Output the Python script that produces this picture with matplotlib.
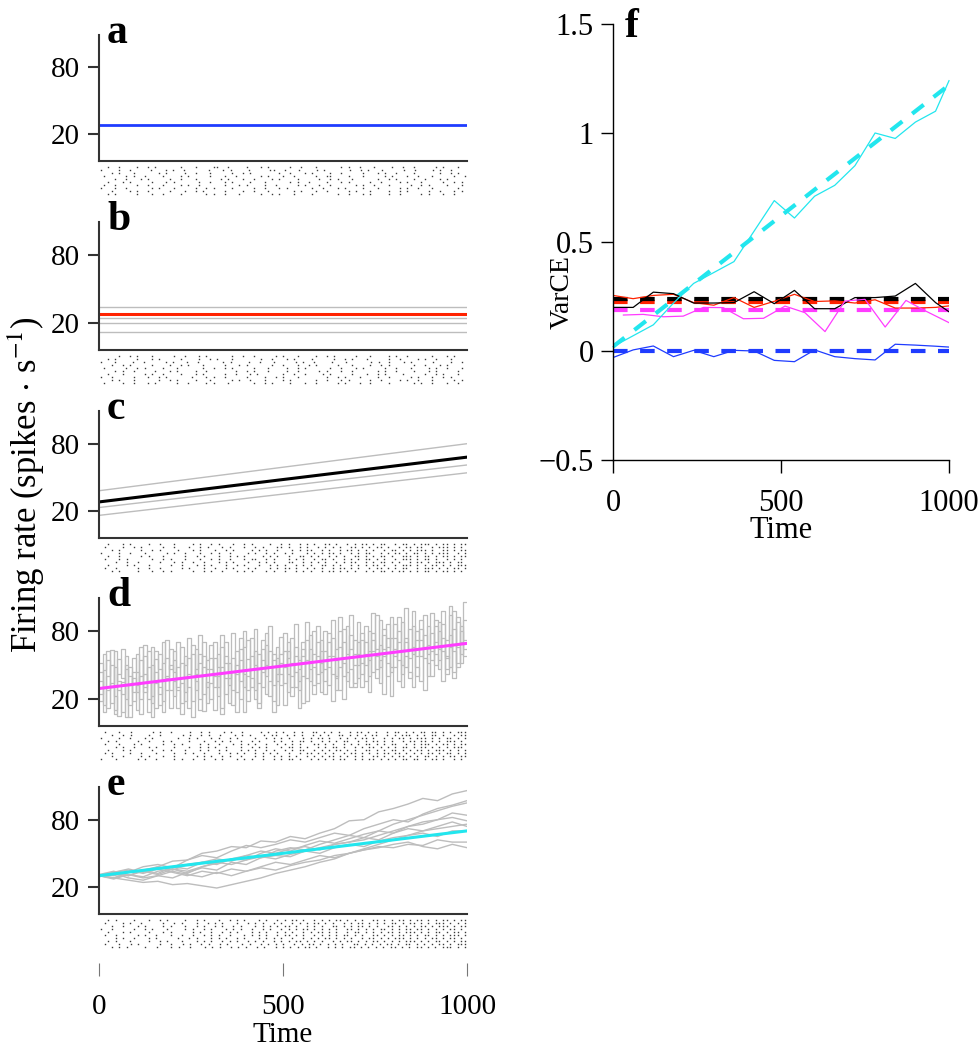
import numpy as np
import matplotlib
matplotlib.use("Agg")
import matplotlib.pyplot as plt

plt.rcParams["font.family"] = ["Liberation Serif", "DejaVu Serif"]
plt.rcParams["mathtext.fontset"] = "stix"

# ---------------- data ----------------
# mean firing rates (spikes/s) at t=0 and t=1000
rate_a = 28
rate_b = 28
b_trial_rates = [34, 24, 20, 12]
c_start, c_end = 28, 68
c_trial_starts = [38, 23, 16]
c_trial_ends = [80, 61, 54]
d_start, d_end = 29, 69
e_start, e_end = 30, 70

# panel d: piecewise-constant trial rates, one value per 10 ms bin
d_bin_ms = 10
d_trials = [
    [52, 8, 40, 63, 22, 5, 35, 58, 14, 44, 10, 66, 30, 48, 4, 55, 24, 70, 38, 12,
     62, 28, 6, 50, 74, 18, 42, 60, 9, 35, 20, 70, 48, 12, 58, 32, 78, 26, 64, 8,
     55, 30, 82, 16, 44, 68, 22, 60, 36, 75, 14, 62, 40, 86, 28, 70, 18, 52, 80, 34,
     72, 24, 58, 90, 38, 66, 20, 84, 46, 30, 88, 42, 70, 26, 62, 94, 34, 76, 52, 22,
     48, 92, 30, 74, 56, 98, 40, 82, 28, 68, 96, 50, 80, 36, 72, 102, 44, 88, 60, 106],
    [18, 45, 62, 30, 10, 55, 38, 4, 48, 26, 60, 20, 42, 8, 66, 34, 14, 52, 72, 28,
     36, 70, 16, 58, 30, 4, 46, 76, 24, 54, 68, 10, 40, 76, 24, 52, 14, 62, 36, 80,
     28, 74, 50, 12, 64, 40, 84, 18, 56, 32, 78, 42, 22, 66, 54, 16, 88, 36, 60, 70,
     26, 80, 48, 18, 64, 92, 40, 56, 76, 34, 60, 30, 84, 54, 96, 38, 68, 24, 86, 48,
     74, 36, 62, 100, 44, 30, 80, 58, 94, 52, 40, 84, 64, 98, 46, 76, 38, 92, 70, 58],
    [36, 14, 28, 50, 6, 42, 64, 20, 32, 56, 44, 6, 58, 36, 22, 62, 46, 18, 40, 64,
     22, 48, 66, 38, 12, 60, 28, 52, 70, 16, 46, 30, 60, 6, 70, 44, 28, 50, 20, 66,
     72, 38, 20, 60, 30, 78, 48, 8, 66, 42, 34, 56, 74, 30, 46, 64, 38, 76, 24, 58,
     44, 62, 32, 74, 54, 28, 70, 60, 94, 50, 38, 72, 50, 80, 44, 58, 90, 64, 40, 74,
     86, 54, 42, 70, 64, 84, 48, 36, 76, 60, 62, 90, 54, 74, 42, 66, 98, 52, 80, 72],
    [24, 60, 12, 34, 48, 28, 8, 50, 40, 18, 32, 54, 26, 62, 16, 44, 30, 8, 56, 46,
     54, 12, 34, 26, 56, 40, 64, 20, 48, 30, 34, 56, 22, 48, 38, 16, 56, 42, 74, 30,
     40, 58, 28, 46, 72, 24, 36, 54, 14, 60, 62, 26, 52, 44, 12, 58, 72, 46, 32, 84,
     52, 36, 70, 42, 28, 48, 82, 36, 64, 72, 50, 78, 36, 62, 72, 46, 54, 82, 66, 92,
     58, 70, 88, 48, 82, 60, 72, 90, 56, 40, 78, 60, 46, 86, 56, 94, 62, 48, 84, 64],
    [44, 30, 54, 16, 62, 36, 24, 46, 4, 38, 26, 40, 68, 20, 50, 12, 60, 36, 28, 50,
     44, 30, 52, 18, 42, 68, 36, 10, 58, 46, 56, 40, 30, 66, 52, 38, 44, 8, 54, 42,
     18, 46, 62, 34, 54, 50, 62, 32, 42, 52, 48, 70, 30, 58, 36, 40, 54, 64, 48, 42,
     62, 46, 78, 58, 40, 80, 52, 44, 30, 60, 70, 52, 60, 40, 78, 64, 48, 58, 74, 44,
     64, 80, 50, 58, 38, 66, 58, 72, 66, 84, 54, 70, 88, 62, 58, 48, 82, 66, 52, 90],
]

# panel e: random-walk trial rates sampled every 40 ms
e_time = list(range(0, 1001, 40))
e_trials = [
    [30, 33, 36, 33, 38, 43, 44, 50, 52, 56, 55, 61, 60, 65, 63, 68, 72, 79, 80, 87, 90, 94, 99, 97, 103, 106],
    [30, 28, 33, 38, 40, 37, 44, 48, 46, 52, 57, 55, 58, 62, 60, 64, 68, 66, 72, 76, 80, 78, 85, 90, 93, 97],
    [31, 34, 30, 35, 32, 38, 36, 42, 45, 43, 48, 46, 52, 55, 53, 58, 62, 66, 64, 70, 76, 80, 84, 88, 92, 95],
    [30, 27, 31, 29, 34, 36, 32, 38, 41, 45, 44, 50, 54, 52, 57, 61, 59, 63, 67, 70, 68, 74, 78, 80, 86, 84],
    [29, 32, 28, 26, 30, 28, 33, 37, 35, 42, 40, 46, 48, 47, 52, 55, 58, 60, 62, 66, 70, 74, 76, 80, 82, 79],
    [30, 28, 26, 24, 25, 22, 23, 21, 19, 22, 25, 28, 32, 35, 38, 42, 45, 50, 54, 58, 62, 66, 70, 72, 74, 76],
    [31, 30, 33, 35, 38, 35, 40, 42, 40, 45, 48, 52, 50, 54, 56, 53, 58, 60, 64, 62, 68, 72, 70, 74, 78, 74],
    [30, 32, 30, 34, 31, 36, 34, 38, 42, 40, 44, 47, 45, 49, 52, 50, 55, 58, 56, 61, 64, 66, 68, 65, 70, 70],
    [30, 33, 35, 32, 36, 33, 30, 34, 32, 36, 34, 38, 42, 40, 44, 48, 46, 50, 53, 56, 55, 58, 57, 62, 60, 60],
    [30, 28, 31, 28, 30, 34, 31, 29, 33, 30, 34, 37, 35, 39, 42, 44, 48, 50, 53, 55, 58, 60, 56, 54, 58, 55],
]

# spike rasters, one string per trial, '|' = spike in that 10 ms bin
raster_a = [
    "..|..|....|..|.|......|...|....||..|....|...|.|.....|..|...|......|.|..|...|....|..|..|.....|.|...|..",
    "|....|..|.....|...|.|..|......|...|.|....|.....||..|...|....|.|......|..|.|...|.....|..|....|.|..|....",
    "...|.|...|......|.|....|..|...|.....|..|.|.......|..|...|.|....|..|.....|...|.|..|....|......|..|.|..",
    ".|.....|.|..|....|....|.|.....|...|..|......|.|...|..|.....|..||....|...|.....|.|...|..|...|.....|..|",
    "....|..|...|.|.....|..|...|......|.|...|..|....|.|....|.....|..|.|...|......|..|.|....|..|...|.|.....",
    "..|...|.|.....|...|.|......|..|...|.|....|...|......|.|..|....|...|.|.....|..|....|.|...|.....|..|.|.",
    ".|..|.....|..|...|....|.|..|......|...|.|....|..|.....|.|...|..|......|.|..|...|.....|..|.|....|...|.",
    "|...|..|......|.|...|.....|..|.|....|.....|..|...|.|......|..|...|.|....|...|.....|.|..|...|......|..",
    "...|....|.|..|.....|...|..|.|.....|....|..|...|......|.|...|..|.....|.|...|....|..|.|.....|..|...|.|.",
    "..|.|.....|...|..|....|......|.|..|...|.....|..|.|...|....|......|..|...|.|....|..|.....|.|...|..|...",
]
raster_b = [
    ".....|..|.|...|.....|..|...|.|......|..|..|.....|.|...|....|..|.|.....|...|....|.|..|......|...|.|...",
    "..|.|.....|...|.|.....|....|..|.|...|.......|..|...|.|....|.....|..|.|...|.....|..|....|.|..|...|....",
    "|...|....|..|.....|.|...|..|......|.|....|..|...|.....|.|..|....|...|......|.|..|...|.|.....|....|..|.",
    "...|..|.|.....|....|..|.|...|.....|...|.|......|..|...|..|.|.....|...|....|..|.|......|..|...|.|.....",
    ".|.....|..|.|....|...|......|..|..|.|.....|...|....|..|.|......|..|...|.|.....|..|...|....|.|..|...|.",
    "....|.|..|.....|...|.|....|..|.......|..|.|...|....|..|.....|.|...|..|......|.|..|....|...|.|.....|..",
    "..|...|.....|.|..|....|...|.|.....|..|...|.|......|..|..|....|.|.....|...|..|.|....|.....|..|.|...|..",
    "|..|.....|...|..|.|......|...|.|..|.....|....|..|.|...|.......|..|.|...|....|..|.....|.|...|..|.|....",
    "...|.|...|......|..|.|....|...|.....|.|..|...|....|.|......|..|...|.|.....|..|....|.|..|...|.....|.|.",
    ".|....|..|...|.|.....|..|....|.|...|......|..|.|....|...|..|.....|.|...|..|....|......|.|..|...|..|..",
]
raster_c = [
    "..|...|.|....|..|...|....|.|..|.|...|..|.|....|..|.|..|.|.|..||.|..|.|.||.|.||..|.||.|.|||.|.||.|.||",
    ".|....|..|.|.....|..|...|..|.|...|.|...|..|.|...||.|..|.|..|.|.|.|..||.|.|.||.|..|.||.||..|.|||.|.|.",
    "...|.|.....|..|.|....|...|.|...|..|.|....|.|.|..|...|.|.||..|.|..|.||.|.|.|..|.||.|.|.|||.|..||.|.||",
    "|....|..|...|.....|.|..|...|..|.|..|....|.|..|.|..|.|...|.|.|.||.|..|.|.||..|.|.||.|.||.|.|.|||..|.|",
    "..|..|.....|.|...|.....|..|.|...|..|.|.|....|.|.|..|..||.|.|..|.|.|..||.|.|.||.|..|||.|.||.|.||.|.||",
    ".|...|.|......|..|.|...|...|..|.|..|...|.||..|.|...|.|.|..|.||.|..|.|.|.||.|.|..|.|||.|.||.|..|.|.|.",
    "....|..|..|.....|...|.|..|..|...|.|.|...|..|.|.|...||..|.|.|.|..|.|.||..|.|.||.|.|..|.||.|.|||.|.||.",
    "..|....|.|...|.....|..|...|.|.|...|..|.|...|..|.|.|..|.|.|..||.|.|..|.|.|.||.|..|.|||.|.|.||.|.|.|||",
    ".|..|.....|..|..|.....|.|...|..|..|.|...|.|...|.|.||.|..|.|.|..|.||.|.|..|.||.|.|.||..|.|||.|.|.||.|",
    "...|.|....|...|..|.|.....|..|.|..|...|.|.|...|.|..|..|.|.|..|.||.|.|.|..|.|.||.|.||.|.|.||.|.||.|.|.",
]
raster_d = [
    ".|...|..|.....|.|..|....|..|.|...|.|..|....|.|.|.|..|.|..||.|.|.|..|.||.|.|..|.||.|.|.||.||.|.|.|||",
    "...|..|.|....|..|.....|.|..|.|..|...|.|.|...|.||..|.|.|..|.|.|..||.|.|.|.||..|.|.|||.|.|.||.|..|.||",
    "|....|..|...|.|......|..|.|...|.|..|.|....|..|.|.|.|...|.|.||.|..|.|.|.||.|..|.|.||.|.|||.|.|.||.|.|",
    "..|.|.....|..|...|.|....|...|..|.|.|..|..|.|...|.|..|.||.|..|.|.|.||..|.|.||.|.|..|.||.||.|.|.|||.|.",
    ".|...|...|.|.....|..|.|....|.|..|...|.|.|.|..|..|.|.|.|...||.|.|..|.|.|.||.|.|.||..|.|.|||.|.||.|.||",
    "....|.|..|...|.|....|...|..|.|.|..|...|..|.|.|...|.||.|.|..|.|.||.|..|.|.||.|.|.|.||.|.||.|.|.|.|||.",
    "..|...|.|.....|..|.|...|...|.|..|.|...|.|.|..|.|..|.|.||..|.|.|.||.|.|..||.|.|.||.|.|.||.|.|||.|.|.|",
    ".|.|....|..|...|....|..|.|..|...|..|.|.|..|.|.|.|..|..|.||.|.|.|..|.||.|.|.|.||.||.|.|.|.||.|.||.|.|",
    "...|..|....|.|...|..|.....|.|.|..|.|..|...|.|..|.|.|.|..|.|.|.||.|.|.|.|..||.|.|.||.|.|.||.|.|.||.||",
    "|...|.....|.|..|....|.|..|..|..|.|...|.|.|..|..|.|.||.|..|.|.|.|.||..|.|.||.|.|.|.||.||.|.||.|..|.|.",
]
raster_e = [
    "..|.|....|...|..|.|....|..|.|...|..|.|.|...|.|..|.|.||.|..|.|.|.||.|.|.|..||.|.|.||.|.||.|.|.||.|.||",
    ".|....|.|..|.....|..|.|...|..|.|.|...|..|.|.|..|.|..|.|.|.||.|.|..|.|.||.|.|.|.||.|.||.|.|.|||.|.|.|",
    "...|..|...|.|....|.|...|..|.|..|.|..|.|...|.|.|.|.||.|..|.|.|..||.|.|.||.|.|..||.|.|.|.||.|.|||.|.||",
    "|..|.....|..|.|...|....|.|..|.|...|.|.|..|..|.|..|.|.|.||.|.|.|.|..||.|.|.|.||.|.|.||.||.|.|.|.||.|.",
    "..|...|.|....|...|.|.....|.|..|..|.|.|...|.|.|..|.|.|..|.|.||.|.|..|.||.|.|.|.||.|.|||.|.|.||.|.||.|",
    ".|..|.....|.|..|...|..|..|..|.|.|..|...|.|.|.|..|.||.|.|..|.|.|.|.||.|.|..||.|.|.||.|.|.||.|.|.|||.|",
    "....|.|..|...|.|.....|..|.|...|.|.|..|.|...|.|.|.|..|..|.|.|.||.|.|.|..|.||.|.|.|||.|.|.|.||.|.||.|.",
    "..|.|...|....|..|.|...|...|.|.|..|.|.|..|.|.|..|.|.|.||.|.|.|..|.|.||.|.|.||.|.|.|.|||.|.|.||.|.|.||",
    ".|...|..|.|.....|..|..|.|..|.|..|.|...|.|..|.|.|.|..|.|.||.|.|.|.|..||.|.|.|.||.|.||.|.|.|.||.|.|||",
    "...|.|.|....|..|...|.|..|...|.|.|..|.|.|..|.|..|.|.|.|.||.|..|.|.|.||.|.|.|.|.||.|.|.||.|.|.|||.|.|",
]

# panel f: VarCE estimates
f_time = [0, 60, 120, 180, 240, 300, 360, 420, 480, 540, 600, 660, 720, 780, 840, 900, 960, 1000]
varce_black = [0.20, 0.20, 0.27, 0.263, 0.22, 0.22, 0.222, 0.272, 0.217, 0.278, 0.194, 0.194,
               0.245, 0.245, 0.252, 0.31, 0.222, 0.18]
varce_red = [0.255, 0.24, 0.255, 0.26, 0.222, 0.21, 0.245, 0.20, 0.228, 0.26, 0.227, 0.23,
             0.22, 0.235, 0.197, 0.197, 0.20, 0.207]
varce_blue = [-0.03, 0.005, 0.023, -0.026, 0.003, -0.026, 0.003, 0.0, -0.043, -0.049, 0.005,
              -0.026, -0.035, -0.041, 0.031, 0.027, 0.022, 0.018]
varce_cyan = [0.02, 0.07, 0.12, 0.22, 0.31, 0.36, 0.41, 0.55, 0.69, 0.61, 0.71, 0.76, 0.85,
              1.00, 0.975, 1.05, 1.10, 1.24]
magenta_time = [31, 90, 150, 209, 269, 328, 388, 448, 512, 571, 631, 690, 750, 810, 872, 931, 1000]
varce_magenta = [0.165, 0.168, 0.157, 0.16, 0.20, 0.199, 0.148, 0.15, 0.206, 0.176, 0.089,
                 0.229, 0.237, 0.11, 0.232, 0.183, 0.13]
theory_black = 0.237
theory_red = 0.224
theory_magenta = 0.19
theory_blue = 0.0
theory_cyan = (0.02, 1.22)

BLUE = "#1f3cff"
RED = "#ff2200"
MAGENTA = "#ff3cff"
CYAN = "#22e6ee"
GRAY = "#bdbdbd"

W, H = 980, 1050
fig = plt.figure(figsize=(W / 100, H / 100), dpi=100)

# pixel rows of the five left panels (top, bottom of the frame)
rows_px = [(35, 161), (222, 350), (411, 538), (598, 726), (787, 914)]
x0_px, x1_px = 99, 467


def rate_axes(top, bot, letter):
    ax = fig.add_axes([x0_px / W, 1 - bot / H, (x1_px - x0_px) / W, (bot - top) / H])
    ax.set_xlim(0, 1000)
    ax.set_ylim(-4.2, 109.2)
    for s in ["top", "right"]:
        ax.spines[s].set_visible(False)
    for s in ["left", "bottom"]:
        ax.spines[s].set_color("#333333")
        ax.spines[s].set_linewidth(1.5)
    ax.set_xticks([])
    ax.set_yticks([20, 80])
    ax.tick_params(axis="y", direction="out", length=8, width=1.5, color="#333333",
                   labelsize=21, pad=6)
    ax.text(0.022, 0.937, letter, transform=ax.transAxes, fontsize=30,
            fontweight="bold", va="baseline", ha="left")
    return ax


def raster_axes(bot, rows):
    ax = fig.add_axes([x0_px / W, 1 - (bot + 34) / H, (x1_px - x0_px) / W, 29 / H])
    ax.set_xlim(0, 1000)
    ax.set_ylim(0.5, len(rows) + 0.5)
    ax.axis("off")
    for i, row in enumerate(rows):
        n = len(row)
        xs = [(k + 0.5) * 1000 / n for k, ch in enumerate(row) if ch == "|"]
        ax.plot(xs, [len(rows) - i] * len(xs), "s", ms=1.0, color="#3a3a3a", mec="none")
    return ax


t_line = [0, 1000]

# a
ax = rate_axes(*rows_px[0], "a")
ax.plot(t_line, [rate_a, rate_a], color=BLUE, lw=2)
raster_axes(rows_px[0][1], raster_a)

# b
ax = rate_axes(*rows_px[1], "b")
for r in b_trial_rates:
    ax.plot(t_line, [r, r], color=GRAY, lw=1)
ax.plot(t_line, [rate_b, rate_b], color=RED, lw=2.2)
raster_axes(rows_px[1][1], raster_b)

# c
ax = rate_axes(*rows_px[2], "c")
for s, e in zip(c_trial_starts, c_trial_ends):
    ax.plot(t_line, [s, e], color=GRAY, lw=1)
ax.plot(t_line, [c_start, c_end], color="black", lw=2.2)
raster_axes(rows_px[2][1], raster_c)

# d
ax = rate_axes(*rows_px[3], "d")
for tr in d_trials:
    edges = np.arange(0, len(tr) + 1) * d_bin_ms
    ax.step(edges, list(tr) + [tr[-1]], where="post", color=GRAY, lw=0.9)
ax.plot(t_line, [d_start, d_end], color=MAGENTA, lw=2.2)
raster_axes(rows_px[3][1], raster_d)

# e
ax = rate_axes(*rows_px[4], "e")
for tr in e_trials:
    ax.plot(e_time, tr, color=GRAY, lw=1)
ax.plot(t_line, [e_start, e_end], color=CYAN, lw=2.2)
raster_axes(rows_px[4][1], raster_e)

# shared time axis under the left column
ax_t = fig.add_axes([x0_px / W, 1 - 963 / H, (x1_px - x0_px) / W, 0.0005])
ax_t.set_xlim(0, 1000)
for s in ax_t.spines.values():
    s.set_visible(False)
ax_t.set_yticks([])
ax_t.set_xticks([0, 500, 1000])
ax_t.tick_params(axis="x", direction="out", length=9, width=0.8, color="#777777",
                 labelsize=21, pad=13)
fig.text(283 / W, 1 - 1035 / H, "Time", ha="center", va="center", fontsize=21)

fig.text(26 / W, 1 - 485 / H, r"Firing rate (spikes $\cdot$ s$^{-1}$)", rotation=90,
         ha="center", va="center", fontsize=25)

# f
axf = fig.add_axes([613 / W, 1 - 460 / H, 336 / W, 436 / H])
axf.set_xlim(0, 1000)
axf.set_ylim(-0.5, 1.5)
for s in ["top", "right"]:
    axf.spines[s].set_visible(False)
for s in ["left", "bottom"]:
    axf.spines[s].set_linewidth(1.0)
axf.set_xticks([0, 500, 1000])
axf.set_yticks([-0.5, 0, 0.5, 1, 1.5])
axf.set_yticklabels(["\u22120.5", "0", "0.5", "1", "1.5"])
axf.tick_params(axis="both", direction="out", length=9, width=1.0, labelsize=22)
axf.tick_params(axis="x", pad=12)
axf.tick_params(axis="y", pad=5)

dash = (0, (3.5, 3))
axf.plot(t_line, [theory_red] * 2, color=RED, lw=3, ls=dash)
axf.plot(t_line, [theory_black] * 2, color="black", lw=3, ls=dash)
axf.plot(t_line, [theory_magenta] * 2, color=MAGENTA, lw=3, ls=dash)
axf.plot(t_line, [theory_blue] * 2, color=BLUE, lw=3, ls=dash)
axf.plot(t_line, list(theory_cyan), color=CYAN, lw=3, ls=dash)

axf.plot(f_time, varce_red, color=RED, lw=0.9)
axf.plot(f_time, varce_black, color="black", lw=0.9)
axf.plot(magenta_time, varce_magenta, color=MAGENTA, lw=0.9)
axf.plot(f_time, varce_blue, color=BLUE, lw=0.9)
axf.plot(f_time, varce_cyan, color=CYAN, lw=0.9, clip_on=False)

axf.text(0.036, 0.97, "f", transform=axf.transAxes, fontsize=30, fontweight="bold",
         va="baseline", ha="left")
fig.text(781 / W, 1 - 531 / H, "Time", ha="center", va="center", fontsize=22)
fig.text(562 / W, 1 - 292 / H, "VarCE", rotation=90, ha="center", va="center", fontsize=20)

fig.savefig("out.png", dpi=100)
